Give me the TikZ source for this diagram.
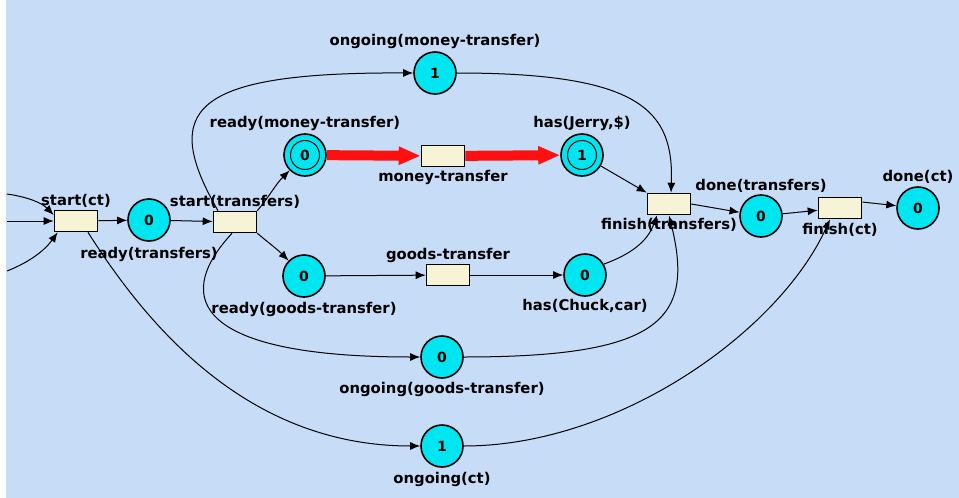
\documentclass[tikz,border=0pt]{standalone}
\usepackage{fontspec}
\setmainfont{DejaVu Sans}
\usepackage{xcolor}
\usetikzlibrary{positioning,arrows.meta}

\definecolor{bgblue}{RGB}{199,220,247}
\definecolor{placecyan}{RGB}{0,230,240}
\definecolor{transcream}{RGB}{247,243,214}
\definecolor{firered}{RGB}{255,16,16}

\tikzset{
  place/.style={circle,draw,line width=1.6pt,fill=placecyan,minimum size=42pt,inner sep=0pt,
    font=\fontsize{14}{14}\selectfont\bfseries},
  marked/.style={place,path picture={\draw[line width=1pt] (path picture bounding box.center) circle (14.5pt);}},
  trans/.style={rectangle,draw,line width=1.6pt,fill=transcream,minimum width=43pt,minimum height=21pt,inner sep=0pt},
  lbl/.style={inner sep=0pt,font=\fontsize{14.8}{16}\selectfont\bfseries},
  arc/.style={line width=1pt,-{Latex[length=10pt,width=8pt]}},
  fire/.style={line width=10pt,draw=firered,-{Triangle[length=22pt,width=17pt]}}
}

\begin{document}
\begin{tikzpicture}[x=1pt,y=-1pt]
    \useasboundingbox (0,0) rectangle (959,498);
    \fill[white] (0,0) rectangle (959,498);
    \fill[bgblue] (6,0) rectangle (959,498);

    % Stellen und Transitionen
    \node[trans] (sc) at (76,221) {};
    \node[place] (rt) at (149,220) {0};
    \node[trans] (st) at (235,222) {};
    \node[marked] (rmt) at (305,155) {0};
    \node[trans] (mt) at (443,156) {};
    \node[marked] (hjs) at (582,155) {1};
    \node[place] (omt) at (435,73) {1};
    \node[trans] (ft) at (669,204) {};
    \node[place] (dt) at (761,216) {0};
    \node[trans] (fc) at (840,208) {};
    \node[place] (dc) at (918,208) {0};
    \node[place] (rgt) at (304,276) {0};
    \node[trans] (gt) at (448,275) {};
    \node[place] (hcc) at (585,275) {0};
    \node[place] (ogt) at (442,357) {0};
    \node[place] (oct) at (442,446) {1};

    % Beschriftungen
    \node[lbl,above=2pt of sc] (sc-l) {start(ct)};
    \node[lbl,below=5pt of rt] (rt-l) {ready(transfers)};
    \node[lbl,above=2pt of st] (st-l) {start(transfers)};
    \node[lbl,above=2pt of rmt] (rmt-l) {ready(money-transfer)};
    \node[lbl,below=3pt of mt] (mt-l) {money-transfer};
    \node[lbl,above=2pt of hjs] (hjs-l) {has(Jerry,\$)};
    \node[lbl,above=2pt of omt] (omt-l) {ongoing(money-transfer)};
    \node[lbl,below=3pt of ft] (ft-l) {finish(transfers)};
    \node[lbl,above=2pt of dt] (dt-l) {done(transfers)};
    \node[lbl,below=4pt of fc] (fc-l) {finish(ct)};
    \node[lbl,above=3pt of dc] (dc-l) {done(ct)};
    \node[lbl,below=4pt of rgt] (rgt-l) {ready(goods-transfer)};
    \node[lbl,above=1pt of gt] (gt-l) {goods-transfer};
    \node[lbl,below=2pt of hcc] (hcc-l) {has(Chuck,car)};
    \node[lbl,below=3pt of ogt] (ogt-l) {ongoing(goods-transfer)};
    \node[lbl,below=4pt of oct] (oct-l) {ongoing(ct)};

    % Eingaenge
    \coordinate (in1) at (7,194);
    \coordinate (in2) at (7,221);
    \coordinate (in3) at (7,271);
    \draw[arc] (in1) .. controls (28,197) and (42,203) .. (sc.165);
    \draw[arc] (in2) -- (sc.west);
    \draw[arc] (in3) .. controls (30,262) and (45,250) .. ([xshift=4pt]sc.south west);

    % Kanten
    \draw[arc] (sc) -- (rt);
    \draw[arc] (rt) -- (st);
    \draw[arc] (st.north east) to[out=50,in=225] (rmt);
    \draw[arc] (st.south east) to[out=-40,in=135] (rgt);
    \draw[arc] ([xshift=-17pt]st.north) .. controls (160,110) and (190,72) .. (omt.west);
    \draw[arc] (omt.east) .. controls (640,73) and (674,110) .. ([xshift=2pt]ft.north);
    \draw[arc] ([xshift=-3pt]st.south) .. controls (170,300) and (200,357) .. (ogt.west);
    \draw[arc] (ogt.east) .. controls (660,357) and (695,320) .. (ft.south);
    \draw[arc] (rgt) -- (gt);
    \draw[arc] (gt) -- (hcc);
    \draw[arc] (hcc.30) to[out=20,in=-110] ([xshift=-12pt]ft.south);
    \draw[arc] (hjs) -- (ft.north west);
    \draw[arc] (ft.east) -- (dt);
    \draw[arc] (dt) -- (fc);
    \draw[arc] (fc.15) -- (dc);
    \draw[arc] ([xshift=12pt]sc.south) .. controls (150,330) and (250,446) .. (oct.west);
    \draw[arc] (oct.east) .. controls (620,446) and (780,330) .. ([xshift=-10pt]fc.south);

    % Schaltung
    \draw[fire] (rmt) -- (mt);
    \draw[fire] (mt) -- (hjs);
\end{tikzpicture}
\end{document}
